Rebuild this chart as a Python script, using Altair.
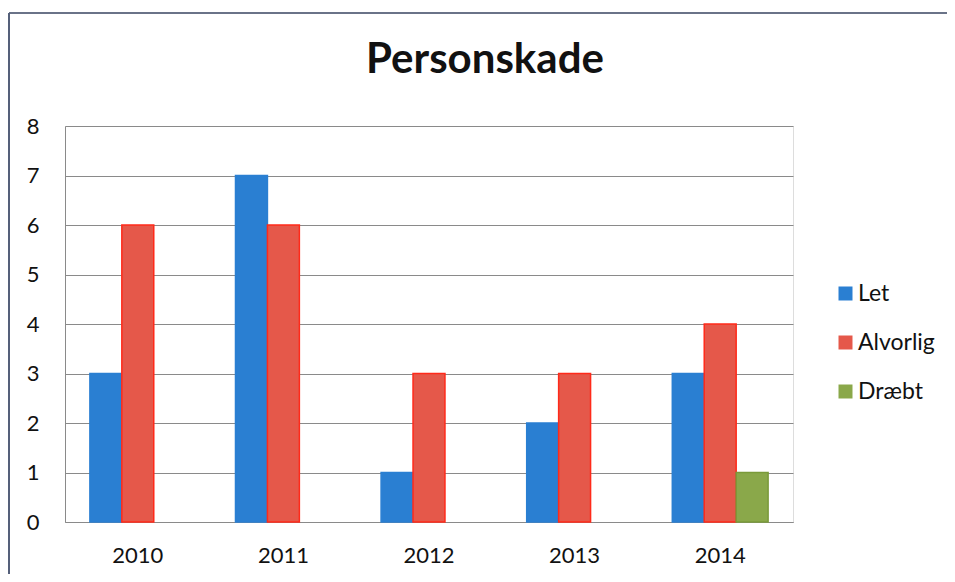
import altair as alt
import pandas as pd

years = ["2010", "2011", "2012", "2013", "2014"]
series = ["Let", "Alvorlig", "Dræbt"]
let_vals = [3, 7, 1, 2, 3]
alvorlig_vals = [6, 6, 3, 3, 4]
draebt_vals = [0, 0, 0, 0, 1]
y_ticks = [0, 1, 2, 3, 4, 5, 6, 7, 8]

fills = ["#2a7fd2", "#e5584a", "#8aa84a"]
strokes = ["#2a7fd2", "#ff2a1a", "#7a9a3a"]

rows = []
for i, y in enumerate(years):
    for s, vals in zip(series, [let_vals, alvorlig_vals, draebt_vals]):
        if vals[i] > 0:
            rows.append({"year": y, "serie": s, "value": vals[i]})
df = pd.DataFrame(rows)

font = "Lato"

bars = alt.Chart(df).mark_bar(strokeWidth=1.5).encode(
    x=alt.X("year:N", sort=years, title=None,
            scale=alt.Scale(domain=years, paddingInner=0.342, paddingOuter=0.171),
            axis=alt.Axis(labelAngle=0, ticks=False, labelPadding=23, labelFontSize=22,
                          labelFont=font, labelColor="#111111", domainColor="#8a8a8a",
                          grid=False)),
    xOffset=alt.XOffset("serie:N", sort=series, scale=alt.Scale(domain=series, paddingInner=0, paddingOuter=0)),
    y=alt.Y("value:Q", title=None,
            scale=alt.Scale(domain=[0, 8], nice=False),
            axis=alt.Axis(values=y_ticks, ticks=False, labelPadding=26, labelFontSize=22,
                          labelFont=font, labelColor="#111111", domainColor="#8a8a8a",
                          gridColor="#8a8a8a", gridWidth=1, gridOpacity=1)),
    fill=alt.Fill("serie:N", sort=series, title=None,
                  scale=alt.Scale(domain=series, range=fills),
                  legend=alt.Legend(orient="none", legendX=769, legendY=156,
                                    symbolType="square", symbolSize=196,
                                    symbolStrokeWidth=0, symbolOpacity=1,
                                    labelFontSize=23, labelFont=font, labelColor="#111111",
                                    labelOffset=1, rowPadding=25)),
    stroke=alt.Stroke("serie:N", sort=series, scale=alt.Scale(domain=series, range=strokes), legend=None),
)

frame_df = pd.DataFrame({"k": [0]})
frame_top = alt.Chart(frame_df).mark_rule(stroke="#6a7388", strokeWidth=2, clip=False).encode(
    x=alt.value(-56), x2=alt.value(1200), y=alt.value(-113)
)
frame_left = alt.Chart(frame_df).mark_rule(stroke="#55607a", strokeWidth=2, clip=False).encode(
    x=alt.value(-56), y=alt.value(-113), y2=alt.value(1200)
)

chart = alt.layer(frame_top, frame_left, bars).properties(
    width=728, height=396,
    title=alt.TitleParams("Personskade", font=font, fontSize=42, fontWeight="bold",
                          color="#111111", anchor="middle", dx=56, offset=-70),
    autosize=alt.AutoSizeParams(type="none"),
    padding={"left": 57, "top": 118, "right": 154, "bottom": 52},
).configure_view(stroke=None).configure(background="white")

chart.save("out.html", embed_options={"renderer": "svg", "actions": False})
